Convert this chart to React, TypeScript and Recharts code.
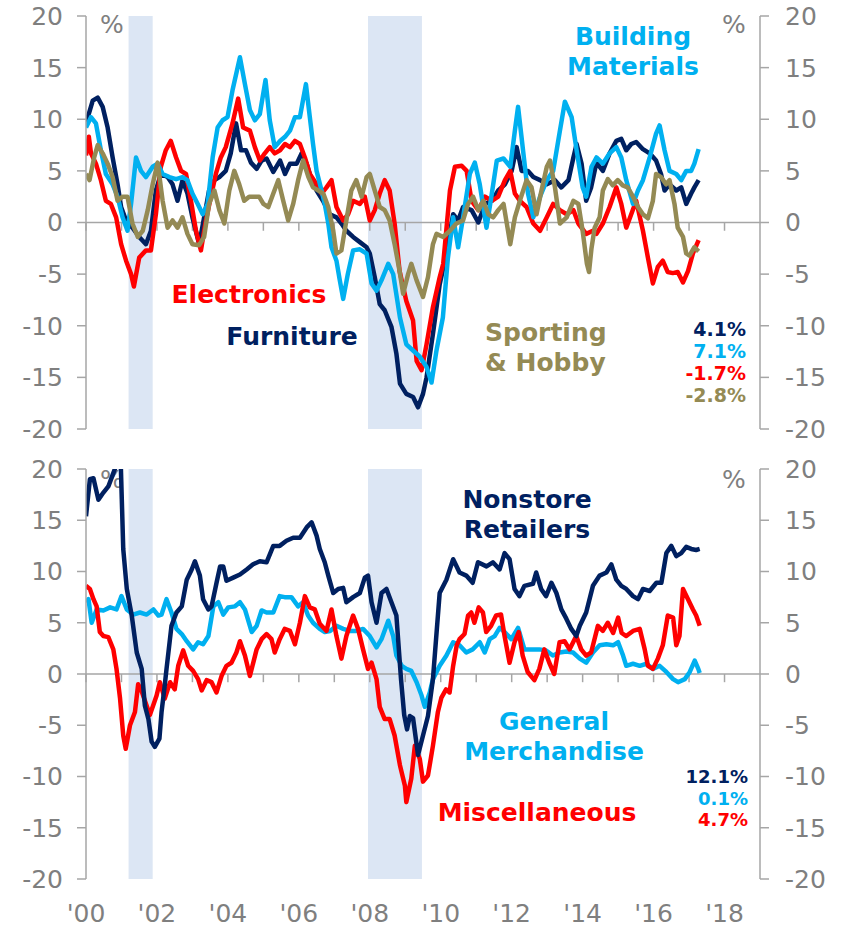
import { LineChart, Line, XAxis, YAxis, ReferenceArea, ReferenceLine } from "recharts";

// each point: [decimal year, % change y/y]
type Pt = [number, number];

const yTicks = [-20, -15, -10, -5, 0, 5, 10, 15, 20];
const xTicks = [2000, 2002, 2004, 2006, 2008, 2010, 2012, 2014, 2016, 2018];
const xTickLabels = ["'00", "'02", "'04", "'06", "'08", "'10", "'12", "'14", "'16", "'18"];
const yearMarks = [2000, 2001, 2002, 2003, 2004, 2005, 2006, 2007, 2008, 2009, 2010, 2011, 2012, 2013, 2014, 2015, 2016, 2017, 2018];
const recessions: Pt[] = [
  [2001.2, 2001.88],
  [2007.95, 2009.47],
];

// top panel
const furniture: Pt[] = [
  [2000.0, 9.6], [2000.19, 11.8], [2000.33, 12.1], [2000.47, 11.2], [2000.61, 9.2], [2000.75, 6.3], [2000.89, 3.7],
  [2000.99, 1.5], [2001.13, 0.2], [2001.31, -0.5], [2001.5, -1.4], [2001.69, -2.1], [2001.83, -0.8], [2001.97, 3.1],
  [2002.11, 4.7], [2002.3, 4.4], [2002.44, 3.7], [2002.58, 2.1], [2002.72, 4.1], [2002.86, 2.8], [2003.0, 0.5],
  [2003.19, -2.1], [2003.33, 0.5], [2003.47, 3.1], [2003.62, 4.1], [2003.76, 4.4], [2003.94, 5.0], [2004.08, 6.7],
  [2004.23, 9.6], [2004.37, 7.0], [2004.51, 7.0], [2004.65, 5.8], [2004.81, 5.2], [2004.95, 6.0], [2005.09, 6.2],
  [2005.28, 4.9], [2005.47, 6.0], [2005.61, 4.7], [2005.75, 5.7], [2005.94, 5.7], [2006.08, 6.7], [2006.22, 5.7],
  [2006.36, 4.1], [2006.5, 3.1], [2006.68, 2.1], [2006.87, 0.8], [2007.06, 0.5], [2007.2, -0.1], [2007.34, -0.8],
  [2007.53, -1.4], [2007.72, -1.9], [2007.91, -2.4], [2008.0, -3.0], [2008.14, -5.3], [2008.28, -7.9],
  [2008.42, -8.5], [2008.61, -10.1], [2008.75, -12.7], [2008.85, -15.6], [2009.03, -16.6], [2009.22, -16.9],
  [2009.36, -17.9], [2009.5, -16.6], [2009.6, -15.0], [2009.78, -10.8], [2009.97, -6.0], [2010.16, -3.0],
  [2010.35, 0.8], [2010.49, 0.2], [2010.63, 1.5], [2010.87, 1.2], [2011.06, 0.0], [2011.25, 1.8], [2011.44, 2.1],
  [2011.62, 3.1], [2011.81, 3.7], [2012.0, 5.0], [2012.14, 7.3], [2012.28, 5.0], [2012.46, 5.0], [2012.61, 4.4],
  [2012.8, 4.1], [2012.99, 3.7], [2013.22, 4.1], [2013.4, 3.4], [2013.6, 4.1], [2013.74, 6.3], [2013.83, 7.6],
  [2013.97, 5.7], [2014.1, 2.1], [2014.24, 3.4], [2014.39, 5.8], [2014.57, 5.0], [2014.76, 6.7], [2014.95, 7.9],
  [2015.09, 8.1], [2015.23, 7.0], [2015.37, 7.6], [2015.51, 7.8], [2015.7, 7.1], [2015.89, 6.7], [2016.07, 6.0],
  [2016.21, 4.7], [2016.31, 3.1], [2016.45, 3.7], [2016.64, 3.1], [2016.78, 3.4], [2016.92, 1.8], [2017.06, 2.8],
  [2017.15, 3.4], [2017.27, 4.1],
];

const building: Pt[] = [
  [2000.0, 9.2], [2000.14, 10.2], [2000.28, 9.6], [2000.42, 7.0], [2000.56, 4.7], [2000.75, 3.7], [2000.89, 2.5],
  [2001.03, 0.5], [2001.17, -0.8], [2001.27, 1.8], [2001.41, 6.3], [2001.55, 5.0], [2001.69, 4.4], [2001.88, 5.4],
  [2002.02, 5.7], [2002.16, 4.7], [2002.35, 4.4], [2002.54, 4.2], [2002.72, 4.4], [2002.86, 4.1], [2003.0, 2.8],
  [2003.15, 1.8], [2003.29, 0.8], [2003.43, 1.8], [2003.57, 6.3], [2003.71, 9.2], [2003.85, 9.9], [2003.99, 10.2],
  [2004.13, 12.8], [2004.34, 16.0], [2004.48, 13.4], [2004.62, 10.9], [2004.76, 9.9], [2004.9, 10.5],
  [2005.06, 13.8], [2005.18, 9.9], [2005.32, 7.3], [2005.47, 7.9], [2005.61, 8.3], [2005.75, 8.9], [2005.89, 10.2],
  [2006.03, 10.2], [2006.2, 13.4], [2006.31, 10.2], [2006.4, 7.6], [2006.5, 5.0], [2006.64, 3.1], [2006.73, 1.8],
  [2006.83, -0.1], [2006.92, -2.4], [2007.06, -3.7], [2007.15, -5.5], [2007.25, -7.4], [2007.38, -5.0],
  [2007.53, -2.7], [2007.72, -2.6], [2007.91, -3.0], [2008.05, -5.9], [2008.19, -6.6], [2008.33, -5.6],
  [2008.52, -4.0], [2008.66, -5.0], [2008.85, -9.2], [2009.03, -11.8], [2009.22, -12.4], [2009.41, -13.0],
  [2009.6, -14.0], [2009.74, -15.5], [2009.88, -12.4], [2010.06, -9.2], [2010.2, -3.5], [2010.35, 0.5],
  [2010.49, -2.4], [2010.63, 0.5], [2010.82, 4.7], [2010.96, 5.8], [2011.1, 3.7], [2011.29, -0.5], [2011.44, 2.8],
  [2011.58, 6.0], [2011.77, 6.2], [2011.96, 5.4], [2012.09, 8.9], [2012.18, 11.2], [2012.32, 7.0], [2012.46, 2.8],
  [2012.61, 0.5], [2012.8, 2.5], [2012.99, 4.1], [2013.17, 5.0], [2013.36, 8.9], [2013.5, 11.7], [2013.69, 10.2],
  [2013.83, 7.0], [2014.0, 3.4], [2014.1, 2.5], [2014.25, 5.4], [2014.39, 6.3], [2014.57, 5.7], [2014.76, 6.7],
  [2014.95, 7.3], [2015.09, 6.3], [2015.23, 4.1], [2015.42, 1.8], [2015.56, 3.1], [2015.7, 4.1], [2015.89, 6.3],
  [2016.07, 8.6], [2016.17, 9.4], [2016.31, 7.0], [2016.45, 5.0], [2016.64, 4.7], [2016.78, 4.1], [2016.92, 5.0],
  [2017.06, 5.0], [2017.15, 5.7], [2017.27, 7.1],
];

const electronics: Pt[] = [
  [2000.0, 6.5], [2000.08, 8.3], [2000.14, 6.7], [2000.28, 5.7], [2000.42, 4.1], [2000.56, 2.1], [2000.7, 1.8],
  [2000.85, 0.5], [2000.99, -2.1], [2001.13, -3.7], [2001.27, -5.0], [2001.35, -6.2], [2001.5, -3.4],
  [2001.69, -2.7], [2001.83, -2.7], [2001.97, 0.8], [2002.11, 5.4], [2002.25, 7.0], [2002.39, 7.9], [2002.54, 6.3],
  [2002.68, 5.0], [2002.82, 4.7], [2002.96, 2.1], [2003.1, -0.8], [2003.24, -2.7], [2003.38, 0.2], [2003.52, 2.5],
  [2003.66, 4.7], [2003.8, 6.3], [2003.94, 7.3], [2004.13, 9.6], [2004.29, 12.0], [2004.43, 9.2], [2004.62, 8.9],
  [2004.76, 7.3], [2004.9, 6.0], [2005.04, 6.7], [2005.18, 7.3], [2005.32, 6.7], [2005.47, 7.0], [2005.61, 7.6],
  [2005.75, 7.3], [2005.89, 7.9], [2006.03, 7.6], [2006.17, 6.3], [2006.31, 4.7], [2006.5, 3.7], [2006.64, 2.8],
  [2006.78, 3.4], [2006.92, 4.1], [2007.06, 1.5], [2007.25, 0.2], [2007.39, 0.8], [2007.53, 2.1], [2007.72, 1.8],
  [2007.86, 2.5], [2008.0, 0.2], [2008.14, 1.2], [2008.28, 2.8], [2008.42, 4.1], [2008.56, 3.1], [2008.7, -0.1],
  [2008.84, -4.7], [2009.03, -7.6], [2009.22, -9.5], [2009.32, -13.4], [2009.46, -14.3], [2009.6, -11.8],
  [2009.78, -8.2], [2009.97, -5.3], [2010.07, -4.0], [2010.26, 3.1], [2010.4, 5.4], [2010.59, 5.5], [2010.73, 5.0],
  [2010.87, 2.1], [2011.06, 1.2], [2011.25, 2.5], [2011.44, 2.1], [2011.62, 2.5], [2011.81, 4.1], [2011.96, 5.0],
  [2012.09, 2.8], [2012.23, 2.1], [2012.42, 1.5], [2012.61, -0.1], [2012.8, -0.8], [2012.99, 0.5], [2013.17, 1.8],
  [2013.36, 1.2], [2013.55, 0.8], [2013.74, 1.2], [2013.88, -0.1], [2014.1, -1.1], [2014.29, -0.8],
  [2014.39, -1.1], [2014.57, -0.1], [2014.76, 1.5], [2014.95, 3.4], [2015.09, 1.8], [2015.23, -0.5], [2015.37, 0.8],
  [2015.51, 2.1], [2015.7, -0.8], [2015.84, -3.4], [2015.98, -5.9], [2016.12, -4.3], [2016.26, -3.7],
  [2016.4, -4.8], [2016.54, -4.9], [2016.68, -4.8], [2016.83, -5.8], [2016.97, -4.7], [2017.11, -3.0],
  [2017.27, -1.7],
];

const sporting: Pt[] = [
  [2000.0, 4.7], [2000.1, 4.1], [2000.23, 6.3], [2000.33, 7.5], [2000.47, 6.7], [2000.61, 5.7], [2000.75, 4.4],
  [2000.89, 2.1], [2001.03, 2.5], [2001.17, 2.5], [2001.31, -0.1], [2001.46, -1.4], [2001.6, -0.8], [2001.74, 1.2],
  [2001.88, 3.7], [2002.02, 5.8], [2002.16, 2.1], [2002.3, -0.5], [2002.44, 0.2], [2002.58, -0.5], [2002.72, 0.5],
  [2002.86, -1.1], [2003.0, -2.1], [2003.19, -2.2], [2003.33, -1.4], [2003.47, 1.8], [2003.62, 3.1], [2003.76, 1.2],
  [2003.9, -0.1], [2004.04, 3.1], [2004.18, 5.0], [2004.32, 3.7], [2004.46, 2.1], [2004.6, 2.5], [2004.74, 2.5],
  [2004.88, 2.5], [2005.0, 1.8], [2005.14, 1.5], [2005.28, 2.8], [2005.42, 4.1], [2005.56, 2.1], [2005.7, 0.2],
  [2005.84, 1.8], [2005.98, 4.1], [2006.12, 6.0], [2006.27, 4.4], [2006.4, 3.4], [2006.55, 3.1], [2006.69, 2.8],
  [2006.83, 1.5], [2006.97, -0.8], [2007.06, -3.0], [2007.2, -2.7], [2007.34, 0.2], [2007.48, 3.1], [2007.62, 4.1],
  [2007.77, 2.5], [2007.91, 4.4], [2008.0, 4.7], [2008.14, 3.1], [2008.28, 1.5], [2008.42, 1.2], [2008.56, 0.2],
  [2008.7, -2.1], [2008.84, -4.7], [2008.94, -6.9], [2009.08, -5.0], [2009.17, -4.0], [2009.32, -5.6],
  [2009.5, -7.2], [2009.64, -5.3], [2009.78, -2.1], [2009.88, -1.1], [2010.07, -1.4], [2010.26, -0.8],
  [2010.44, -0.1], [2010.63, 0.2], [2010.77, 1.8], [2010.91, 2.5], [2011.06, 1.2], [2011.2, 2.1], [2011.34, 0.8],
  [2011.48, 0.5], [2011.62, 1.2], [2011.77, 1.8], [2011.96, -2.1], [2012.09, 0.5], [2012.23, 2.1], [2012.42, 4.1],
  [2012.56, 3.4], [2012.7, 0.8], [2012.84, 3.1], [2012.99, 5.4], [2013.08, 6.0], [2013.22, 3.4], [2013.36, -0.1],
  [2013.55, 0.5], [2013.74, 2.1], [2013.88, 1.8], [2014.0, -0.8], [2014.12, -4.0], [2014.18, -4.8],
  [2014.25, -2.5], [2014.34, -0.5], [2014.48, 0.5], [2014.57, 3.1], [2014.71, 4.2], [2014.85, 3.6], [2014.99, 4.1],
  [2015.13, 3.6], [2015.27, 3.4], [2015.42, 2.5], [2015.56, 1.5], [2015.7, 0.8], [2015.84, 0.4], [2015.98, 2.1],
  [2016.07, 4.7], [2016.21, 4.4], [2016.35, 3.7], [2016.45, 4.1], [2016.59, 1.8], [2016.68, -0.5], [2016.83, -1.4],
  [2016.92, -3.0], [2017.01, -3.2], [2017.15, -2.4], [2017.27, -2.8],
];

// bottom panel
const nonstore: Pt[] = [
  [2000.0, 15.4], [2000.11, 19.0], [2000.21, 19.1], [2000.35, 17.0], [2000.49, 17.7], [2000.63, 18.3],
  [2000.77, 19.6], [2000.9, 20.8], [2000.98, 20.5], [2001.05, 12.2], [2001.15, 8.3], [2001.29, 5.7],
  [2001.43, 2.1], [2001.57, 0.5], [2001.66, -3.1], [2001.76, -4.4], [2001.85, -6.6], [2001.94, -7.1],
  [2002.07, -6.3], [2002.13, -3.7], [2002.22, -1.1], [2002.27, 0.5], [2002.41, 4.7], [2002.55, 6.0], [2002.7, 6.6],
  [2002.84, 9.2], [2002.98, 10.2], [2003.07, 11.0], [2003.21, 9.6], [2003.3, 7.3], [2003.45, 6.3], [2003.54, 6.6],
  [2003.68, 8.9], [2003.78, 10.5], [2003.87, 10.5], [2003.96, 9.1], [2004.15, 9.4], [2004.34, 9.7], [2004.53, 10.2],
  [2004.71, 10.7], [2004.9, 11.0], [2005.09, 10.9], [2005.28, 12.5], [2005.46, 12.5], [2005.65, 13.0],
  [2005.84, 13.3], [2006.03, 13.3], [2006.22, 14.3], [2006.36, 14.8], [2006.5, 13.5], [2006.59, 12.2],
  [2006.73, 10.9], [2006.83, 9.6], [2006.97, 7.9], [2007.11, 8.3], [2007.25, 8.4], [2007.34, 7.0], [2007.53, 7.5],
  [2007.72, 7.9], [2007.86, 9.4], [2007.95, 9.6], [2008.05, 7.0], [2008.19, 5.0], [2008.33, 7.9], [2008.47, 8.3],
  [2008.61, 7.0], [2008.75, 5.7], [2008.88, -0.5], [2008.97, -4.0], [2009.05, -5.4], [2009.13, -4.1],
  [2009.22, -4.3], [2009.36, -7.9], [2009.5, -6.0], [2009.64, -4.1], [2009.78, -0.5], [2009.97, 7.9],
  [2010.16, 9.2], [2010.35, 11.2], [2010.53, 9.9], [2010.72, 9.6], [2010.9, 8.9], [2011.05, 10.9], [2011.29, 10.5],
  [2011.47, 10.9], [2011.66, 10.2], [2011.8, 11.8], [2011.94, 11.2], [2012.08, 8.3], [2012.22, 7.6], [2012.36, 8.6],
  [2012.6, 8.8], [2012.69, 9.9], [2012.83, 8.3], [2012.97, 7.6], [2013.12, 8.9], [2013.26, 7.9], [2013.4, 6.3],
  [2013.54, 5.4], [2013.68, 4.4], [2013.82, 3.7], [2013.92, 4.7], [2014.1, 6.0], [2014.29, 8.6], [2014.48, 9.6],
  [2014.67, 9.9], [2014.81, 10.7], [2014.95, 9.2], [2015.09, 8.6], [2015.23, 8.3], [2015.42, 7.6], [2015.56, 7.3],
  [2015.7, 8.3], [2015.89, 8.1], [2016.08, 8.9], [2016.22, 8.9], [2016.36, 11.8], [2016.5, 12.5], [2016.64, 11.5],
  [2016.78, 11.8], [2016.92, 12.4], [2017.06, 12.2], [2017.2, 12.1], [2017.3, 12.2],
];

const generalMerch: Pt[] = [
  [2000.0, 7.0], [2000.07, 7.3], [2000.16, 5.0], [2000.3, 6.3], [2000.49, 6.2], [2000.68, 6.5], [2000.86, 6.3],
  [2001.0, 7.6], [2001.15, 6.3], [2001.33, 5.8], [2001.52, 6.0], [2001.71, 5.8], [2001.9, 6.3], [2002.04, 5.7],
  [2002.13, 5.8], [2002.27, 7.3], [2002.41, 6.0], [2002.55, 4.4], [2002.7, 3.9], [2002.84, 3.2], [2003.02, 2.4],
  [2003.16, 3.1], [2003.3, 2.9], [2003.45, 3.7], [2003.59, 6.6], [2003.73, 7.0], [2003.87, 5.8], [2004.01, 6.5],
  [2004.2, 6.6], [2004.34, 7.0], [2004.48, 6.3], [2004.67, 4.1], [2004.81, 4.7], [2004.95, 6.2], [2005.09, 6.0],
  [2005.28, 6.0], [2005.46, 7.6], [2005.6, 7.5], [2005.79, 7.5], [2005.98, 6.6], [2006.12, 7.0], [2006.26, 5.7],
  [2006.4, 5.0], [2006.59, 4.4], [2006.73, 4.1], [2006.88, 4.2], [2007.06, 4.7], [2007.25, 4.4], [2007.44, 4.2],
  [2007.62, 4.2], [2007.81, 4.4], [2008.0, 3.7], [2008.19, 2.6], [2008.33, 3.4], [2008.52, 5.2], [2008.66, 3.7],
  [2008.75, 1.8], [2008.9, 0.8], [2009.03, 0.5], [2009.17, 0.3], [2009.32, -0.8], [2009.46, -2.1], [2009.55, -3.2],
  [2009.69, -1.8], [2009.78, -0.5], [2009.97, 0.8], [2010.16, 1.8], [2010.35, 3.1], [2010.53, 2.8], [2010.72, 2.1],
  [2010.9, 2.4], [2011.1, 3.1], [2011.24, 2.1], [2011.38, 3.4], [2011.52, 3.7], [2011.66, 4.5], [2011.8, 4.1],
  [2011.99, 3.4], [2012.18, 4.5], [2012.36, 2.4], [2012.55, 2.4], [2012.78, 2.4], [2012.97, 2.3], [2013.16, 1.8],
  [2013.35, 2.1], [2013.54, 2.2], [2013.73, 2.1], [2013.92, 1.5], [2014.1, 1.1], [2014.29, 2.1], [2014.48, 2.8],
  [2014.67, 2.9], [2014.86, 2.8], [2015.0, 3.1], [2015.14, 1.8], [2015.23, 0.8], [2015.42, 1.0], [2015.61, 0.8],
  [2015.8, 1.0], [2015.98, 0.5], [2016.17, 0.8], [2016.36, 0.2], [2016.55, -0.5], [2016.69, -0.8], [2016.88, -0.5],
  [2017.02, 0.2], [2017.16, 1.3], [2017.26, 0.5], [2017.3, 0.1],
];

const misc: Pt[] = [
  [2000.0, 8.6], [2000.11, 8.3], [2000.21, 7.3], [2000.3, 6.6], [2000.39, 4.1], [2000.49, 3.7], [2000.63, 3.6],
  [2000.77, 2.4], [2000.86, 0.5], [2000.96, -2.4], [2001.05, -6.0], [2001.12, -7.3], [2001.24, -5.0],
  [2001.38, -3.7], [2001.47, -1.0], [2001.55, -1.5], [2001.7, -3.0], [2001.8, -4.0], [2001.92, -2.8],
  [2001.99, -2.1], [2002.08, -0.8], [2002.22, -2.4], [2002.37, -0.8], [2002.5, -1.5], [2002.6, 0.8], [2002.74, 2.3],
  [2002.88, 0.8], [2003.02, 0.3], [2003.16, -0.5], [2003.26, -1.6], [2003.4, -0.6], [2003.54, -0.8], [2003.68, -1.8],
  [2003.82, -0.2], [2003.96, 0.8], [2004.1, 1.1], [2004.24, 2.1], [2004.34, 3.2], [2004.48, 1.8], [2004.62, -0.2],
  [2004.81, 2.4], [2004.95, 3.4], [2005.09, 3.9], [2005.23, 3.4], [2005.32, 2.1], [2005.46, 3.4], [2005.6, 4.4],
  [2005.75, 4.2], [2005.89, 2.9], [2006.03, 5.0], [2006.17, 7.6], [2006.31, 6.5], [2006.45, 6.3], [2006.59, 4.9],
  [2006.78, 4.2], [2006.92, 6.3], [2007.06, 3.7], [2007.2, 1.5], [2007.34, 3.7], [2007.53, 5.7], [2007.67, 4.4],
  [2007.81, 2.4], [2007.95, 0.5], [2008.05, 1.1], [2008.19, -0.5], [2008.28, -3.2], [2008.42, -4.4],
  [2008.56, -4.4], [2008.7, -6.0], [2008.85, -8.9], [2008.99, -10.9], [2009.03, -12.5], [2009.17, -10.2],
  [2009.27, -7.0], [2009.41, -8.3], [2009.5, -10.5], [2009.64, -9.9], [2009.78, -7.0], [2009.92, -3.7],
  [2010.02, -2.3], [2010.15, -1.5], [2010.25, -1.8], [2010.35, 0.8], [2010.45, 2.8], [2010.53, 3.4], [2010.67, 3.9],
  [2010.77, 5.7], [2010.86, 6.0], [2010.95, 5.0], [2011.07, 6.5], [2011.19, 6.0], [2011.28, 4.1], [2011.42, 4.7],
  [2011.56, 5.7], [2011.7, 5.8], [2011.8, 3.7], [2011.94, 1.1], [2012.08, 3.1], [2012.2, 4.1], [2012.31, 1.8],
  [2012.45, 0.2], [2012.64, -0.6], [2012.78, 0.5], [2012.92, 2.4], [2013.06, 1.1], [2013.2, 0.0], [2013.35, 3.1],
  [2013.49, 3.2], [2013.63, 2.4], [2013.82, 3.7], [2013.96, 2.4], [2014.1, 1.8], [2014.24, 2.1], [2014.43, 4.7],
  [2014.57, 4.2], [2014.71, 5.0], [2014.86, 4.0], [2015.0, 5.5], [2015.1, 4.0], [2015.23, 3.7], [2015.42, 4.2],
  [2015.61, 4.4], [2015.75, 2.4], [2015.84, 0.8], [2015.98, 0.5], [2016.12, 1.5], [2016.26, 2.8], [2016.4, 5.7],
  [2016.55, 5.5], [2016.64, 2.8], [2016.73, 3.7], [2016.83, 8.3], [2016.97, 7.3], [2017.11, 6.3], [2017.2, 5.7],
  [2017.3, 4.7],
];

const NAVY = "#002060";
const SKY = "#00B0F0";
const RED = "#FF0000";
const OLIVE = "#948A54";
const BAND = "#DCE6F4";
const AXIS = "#A6A6A6";
const TICK = "#7F7F7F";
const FONT = "DejaVu Sans, Verdana, sans-serif";

const topSeries = [
  { name: "Furniture", color: NAVY, data: furniture },
  { name: "Electronics", color: RED, data: electronics },
  { name: "Building Materials", color: SKY, data: building },
  { name: "Sporting & Hobby", color: OLIVE, data: sporting },
];

const bottomSeries = [
  { name: "General Merchandise", color: SKY, data: generalMerch },
  { name: "Miscellaneous", color: RED, data: misc },
  { name: "Nonstore Retailers", color: NAVY, data: nonstore },
];

const pts = (a: Pt[]) => a.map(([t, v]) => ({ t, v }));

const tickStyle = { fill: TICK, fontSize: 25, fontFamily: FONT };

function Panel({ series, height, margin, showX }: any) {
  return (
    <LineChart width={846} height={height} margin={margin}>
      <XAxis
        type="number"
        dataKey="t"
        domain={[2000, 2019]}
        allowDataOverflow
        hide={!showX}
        ticks={xTicks}
        interval={0}
        tickFormatter={(v: number) => xTickLabels[xTicks.indexOf(v)] ?? ""}
        axisLine={false}
        tickLine={false}
        tickSize={0}
        tickMargin={25}
        height={40}
        tick={tickStyle}
      />
      <YAxis
        yAxisId="l"
        domain={[-20, 20]}
        allowDataOverflow
        ticks={yTicks}
        interval={0}
        width={60}
        axisLine={{ stroke: AXIS, strokeWidth: 1.5 }}
        tickLine={{ stroke: AXIS, strokeWidth: 1.5 }}
        tickSize={9}
        tickMargin={14}
        tick={tickStyle}
      />
      <YAxis
        yAxisId="r"
        orientation="right"
        domain={[-20, 20]}
        allowDataOverflow
        ticks={yTicks}
        interval={0}
        width={80}
        axisLine={{ stroke: AXIS, strokeWidth: 1.5 }}
        tickLine={{ stroke: AXIS, strokeWidth: 1.5 }}
        tickSize={9}
        tickMargin={16}
        tick={tickStyle}
      />
      {recessions.map(([a, b]) => (
        <ReferenceArea key={a} yAxisId="l" x1={a} x2={b} y1={-20} y2={20} fill={BAND} fillOpacity={1} stroke="none" />
      ))}
      <ReferenceLine yAxisId="l" y={0} stroke={AXIS} strokeWidth={1.5} />
      {yearMarks.map((yr) => (
        <ReferenceLine
          key={yr}
          yAxisId="l"
          segment={[{ x: yr, y: 0 }, { x: yr, y: -0.8 }]}
          stroke={AXIS}
          strokeWidth={1.5}
        />
      ))}
      {series.map((s: any) => (
        <Line
          key={s.name}
          yAxisId="l"
          data={pts(s.data)}
          dataKey="v"
          type="linear"
          stroke={s.color}
          strokeWidth={4.5}
          strokeLinejoin="round"
          dot={false}
          activeDot={false}
          isAnimationActive={false}
        />
      ))}
    </LineChart>
  );
}

function Txt({ x, y, w = 400, align = "center", color, size = 25, lh = 30, bold = true, lines }: any) {
  const left = align === "center" ? x - w / 2 : align === "right" ? x - w : x;
  return (
    <div
      style={{
        position: "absolute",
        left,
        top: y,
        width: w,
        textAlign: align,
        color,
        fontSize: size,
        lineHeight: `${lh}px`,
        fontWeight: bold ? 700 : 400,
        fontFamily: FONT,
        whiteSpace: "nowrap",
      }}
    >
      {lines.map((l: string) => (
        <div key={l}>{l}</div>
      ))}
    </div>
  );
}

export default function App() {
  return (
    <div style={{ position: "relative", width: 846, height: 927, background: "#fff" }}>
      <style>{"body{margin:0}"}</style>

      <Txt x={100} y={12} w={60} align="left" color={TICK} bold={false} lh={25} lines={["%"]} />
      <Txt x={722} y={12} w={60} align="left" color={TICK} bold={false} lh={25} lines={["%"]} />
      <Txt x={100} y={467} w={60} align="left" color={TICK} bold={false} lh={25} lines={["%"]} />
      <Txt x={722} y={467} w={60} align="left" color={TICK} bold={false} lh={25} lines={["%"]} />

      <Txt x={633} y={22} color={SKY} lines={["Building", "Materials"]} />
      <Txt x={249} y={280} color={RED} lines={["Electronics"]} />
      <Txt x={292} y={322} color={NAVY} lines={["Furniture"]} />
      <Txt x={485} y={318} align="left" color={OLIVE} lines={["Sporting", "& Hobby"]} />
      <div style={{ position: "absolute", left: 646, top: 318, width: 100, textAlign: "right", fontFamily: FONT, fontWeight: 700, fontSize: 19, lineHeight: "22px" }}>
        <div style={{ color: NAVY }}>4.1%</div>
        <div style={{ color: SKY }}>7.1%</div>
        <div style={{ color: RED }}>-1.7%</div>
        <div style={{ color: OLIVE }}>-2.8%</div>
      </div>

      <Txt x={527} y={485} color={NAVY} lines={["Nonstore", "Retailers"]} />
      <Txt x={554} y={707} color={SKY} lines={["General", "Merchandise"]} />
      <Txt x={537} y={798} color={RED} lines={["Miscellaneous"]} />
      <div style={{ position: "absolute", left: 648, top: 766, width: 100, textAlign: "right", fontFamily: FONT, fontWeight: 700, fontSize: 18, lineHeight: "21.5px" }}>
        <div style={{ color: NAVY }}>12.1%</div>
        <div style={{ color: SKY }}>0.1%</div>
        <div style={{ color: RED }}>4.7%</div>
      </div>

      <div style={{ position: "absolute", left: 0, top: 0 }}>
        <Panel series={topSeries} height={444} margin={{ top: 16, right: 6, bottom: 15, left: 26 }} showX={false} />
      </div>
      <div style={{ position: "absolute", left: 0, top: 444 }}>
        <Panel series={bottomSeries} height={483} margin={{ top: 25, right: 6, bottom: 8, left: 26 }} showX />
      </div>
    </div>
  );
}
